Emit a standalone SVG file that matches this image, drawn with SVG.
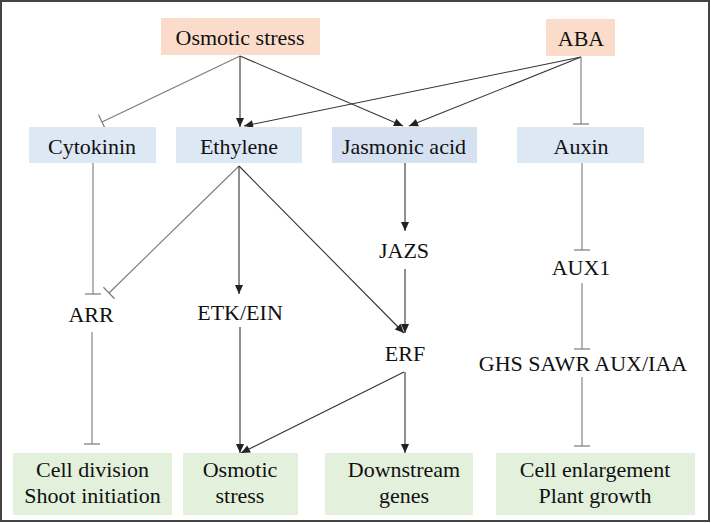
<svg xmlns="http://www.w3.org/2000/svg" width="711" height="523" viewBox="0 0 711 523">
<defs>
<style>
text{font-family:"Liberation Serif","Times New Roman",serif;font-size:22px;fill:#111;text-anchor:middle}
.pe{fill:#fbdccb}
.bl{fill:#dde8f5}
.bj{fill:#d5e0f1}
.gr{fill:#e3f0dc}
.act{stroke:#333;stroke-width:1.1;fill:none;marker-end:url(#arr)}
.inh{stroke:#7a7a7a;stroke-width:1.1;fill:none;marker-end:url(#tb)}
</style>
<marker id="arr" markerUnits="userSpaceOnUse" markerWidth="12" markerHeight="10" refX="10" refY="5" orient="auto" viewBox="0 0 12 10">
<path d="M1,1 L10,5 L1,9 Z" fill="#222"/>
</marker>
<marker id="tb" markerUnits="userSpaceOnUse" markerWidth="4" markerHeight="20" refX="2" refY="10" orient="auto" viewBox="0 0 4 20">
<path d="M2,2 L2,18" stroke="#7a7a7a" stroke-width="1.2"/>
</marker>
</defs>
<rect x="1" y="1" width="708" height="520" fill="#fff" stroke="#444" stroke-width="2"/>

<g id="connectors">
<line class="inh" x1="240" y1="56" x2="102" y2="122"/>
<line class="act" x1="240" y1="56" x2="240" y2="127"/>
<line class="act" x1="240" y1="56" x2="403" y2="126"/>
<line class="act" x1="581" y1="57" x2="244" y2="126"/>
<line class="act" x1="581" y1="57" x2="409" y2="126"/>
<line class="inh" x1="581" y1="57" x2="581" y2="124"/>
<line class="inh" x1="93" y1="163" x2="93" y2="294"/>
<line class="inh" x1="239" y1="166" x2="109" y2="293"/>
<line class="act" x1="239" y1="166" x2="239" y2="294"/>
<line class="act" x1="239" y1="166" x2="404" y2="333"/>
<line class="act" x1="405" y1="163" x2="405" y2="231"/>
<line class="act" x1="405" y1="269" x2="405" y2="333"/>
<line class="inh" x1="582" y1="163" x2="582" y2="250"/>
<line class="inh" x1="582" y1="283" x2="582" y2="349"/>
<line class="inh" x1="582" y1="377" x2="582" y2="446"/>
<line class="inh" x1="92" y1="332" x2="92" y2="444"/>
<line class="act" x1="240" y1="327" x2="240" y2="453"/>
<line class="act" x1="404" y1="372" x2="241" y2="453"/>
<line class="act" x1="405" y1="372" x2="405" y2="453"/>
</g>

<g id="osmotic-stress"><rect class="pe" x="161" y="18" width="159" height="37"/><text x="240" y="45">Osmotic stress</text></g>
<g id="aba"><rect class="pe" x="546" y="19" width="69" height="37"/><text x="581" y="46">ABA</text></g>

<g id="cytokinin"><rect class="bl" x="29" y="127" width="127" height="36"/><text x="92" y="154">Cytokinin</text></g>
<g id="ethylene"><rect class="bl" x="176" y="127" width="126" height="36"/><text x="239" y="154">Ethylene</text></g>
<g id="jasmonic-acid"><rect class="bj" x="332" y="127" width="145" height="36"/><text x="404" y="154">Jasmonic acid</text></g>
<g id="auxin"><rect class="bl" x="517" y="127" width="127" height="36"/><text x="581" y="154">Auxin</text></g>

<g id="jazs"><text x="404" y="258">JAZS</text></g>
<g id="aux1"><text x="581" y="275">AUX1</text></g>
<g id="arr-node"><text x="91" y="322">ARR</text></g>
<g id="etk-ein"><text x="240" y="320">ETK/EIN</text></g>
<g id="erf"><text x="405" y="361">ERF</text></g>
<g id="ghs"><text x="583" y="371">GHS SAWR AUX/IAA</text></g>

<g id="cell-division"><rect class="gr" x="13" y="453" width="159" height="62"/><text x="92.5" y="477">Cell division</text><text x="92.5" y="503">Shoot initiation</text></g>
<g id="osmotic-stress-out"><rect class="gr" x="183" y="453" width="115" height="62"/><text x="240" y="477">Osmotic</text><text x="240" y="503">stress</text></g>
<g id="downstream"><rect class="gr" x="325" y="453" width="148" height="62"/><text x="404" y="477">Downstream</text><text x="404" y="503">genes</text></g>
<g id="cell-enlargement"><rect class="gr" x="496" y="453" width="199" height="62"/><text x="595" y="477">Cell enlargement</text><text x="595" y="503">Plant growth</text></g>
</svg>
